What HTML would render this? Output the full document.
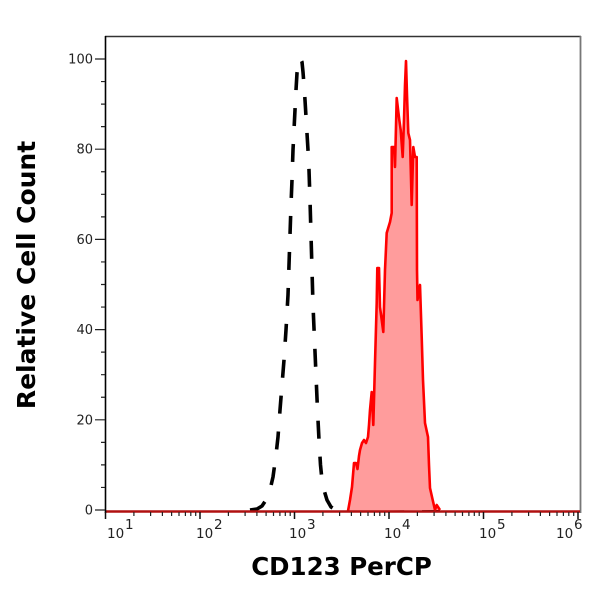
<!DOCTYPE html>
<html><head><meta charset="utf-8"><style>
html,body{margin:0;padding:0;background:#fff;}
svg{display:block;}
</style></head><body>
<svg width="600" height="595" viewBox="0 0 600 595" xmlns="http://www.w3.org/2000/svg">
<rect x="0" y="0" width="600" height="595" fill="#fff"/>
<!-- frame -->
<line x1="105" y1="36.5" x2="581" y2="36.5" stroke="#333" stroke-width="1.5"/>
<line x1="580.5" y1="36" x2="580.5" y2="513" stroke="#777" stroke-width="1.8"/>
<!-- black dashed control curve -->
<polyline fill="none" stroke="#000" stroke-width="3.6" stroke-dasharray="18 18" stroke-linejoin="round"
points="250,510 257,509 262,506 266,500 270,490 273,477 276,455 278,437 280,410 282,385 284,360 286,330 288,295 289,265 290,235 291,205 292,180 293,150 294,130 295,110 296,90 297,73 298.5,63 300,58 302,62 303,72 304,85 305,100 306.5,125 308,150 309,170 310,200 311,235 312,270 313,305 314.5,340 316,375 317.5,410 319,440 320.5,465 322,480 324,490 327,500 331,507 336,510 440,510"/>
<!-- red filled histogram -->
<polygon fill="#ff9c9c" stroke="none"
points="348,511 350,500 352,487 354,463 356,463 357.5,469 359,456 360,450 362,443 364,440 366,443 368,437 369,425 370,410 371.7,392 373.3,425 375,363 376.7,303 377.3,268 379,268 380,307 383.3,332 385,270 386.7,233 390,222 391.7,213 391.7,147 394,147 395,167 396.7,98 399.3,120 400.7,130 402.7,157 404,120 405,85 406,61 407,95 408.3,133 410,140 411.7,205 413.3,147 415,157 416.7,157 417,270 417.5,300 420,285 421.7,337 423,380 425,423 428,437 429,465 430,488 432.7,500 435,510 436.7,505 440,510"/>
<polyline fill="none" stroke="#ff0000" stroke-width="2.6" stroke-linejoin="round"
points="348,511 350,500 352,487 354,463 356,463 357.5,469 359,456 360,450 362,443 364,440 366,443 368,437 369,425 370,410 371.7,392 373.3,425 375,363 376.7,303 377.3,268 379,268 380,307 383.3,332 385,270 386.7,233 390,222 391.7,213 391.7,147 394,147 395,167 396.7,98 399.3,120 400.7,130 402.7,157 404,120 405,85 406,61 407,95 408.3,133 410,140 411.7,205 413.3,147 415,157 416.7,157 417,270 417.5,300 420,285 421.7,337 423,380 425,423 428,437 429,465 430,488 432.7,500 435,510 436.7,505 440,510"/>
<!-- baseline -->
<line x1="105" y1="511.5" x2="580" y2="511.5" stroke="#b01010" stroke-width="2.6"/>
<!-- axes -->
<line x1="105.5" y1="36" x2="105.5" y2="513" stroke="#000" stroke-width="1.6"/>
<!-- y ticks -->
<path stroke="#222" stroke-width="1.2" fill="none" d="
M95,510H105 M95,419.8H105 M95,329.6H105 M95,239.4H105 M95,149.2H105 M95,59H105
M101,487.45H105 M101,464.9H105 M101,442.35H105 M101,397.25H105 M101,374.7H105 M101,352.15H105
M101,307.05H105 M101,284.5H105 M101,261.95H105 M101,216.85H105 M101,194.3H105 M101,171.75H105
M101,126.65H105 M101,104.1H105 M101,81.55H105"/>
<!-- x ticks -->
<path stroke="#111" stroke-width="1.5" fill="none" d="
M105.5,512V519 M200,512V519 M294.5,512V519 M389,512V519 M483.5,512V519 M578,512V519"/>
<path stroke="#222" stroke-width="1.2" fill="none" d="
M133.9,512V516 M150.6,512V516 M162.4,512V516 M171.6,512V516 M179,512V516 M185.4,512V516 M190.8,512V516 M195.7,512V516
M228.4,512V516 M245.1,512V516 M256.9,512V516 M266.1,512V516 M273.5,512V516 M279.9,512V516 M285.3,512V516 M290.2,512V516
M322.9,512V516 M339.6,512V516 M351.4,512V516 M360.6,512V516 M368,512V516 M374.4,512V516 M379.8,512V516 M384.7,512V516
M417.4,512V516 M434.1,512V516 M445.9,512V516 M455.1,512V516 M462.5,512V516 M468.9,512V516 M474.3,512V516 M479.2,512V516
M511.9,512V516 M528.6,512V516 M540.4,512V516 M549.6,512V516 M557,512V516 M563.4,512V516 M568.8,512V516 M573.7,512V516"/>
<!-- y tick labels -->
<g font-family="DejaVu Sans, Verdana, sans-serif" font-size="13" fill="#222" text-anchor="end">
<text x="93" y="514.5">0</text>
<text x="93" y="424.3">20</text>
<text x="93" y="334.1">40</text>
<text x="93" y="243.9">60</text>
<text x="93" y="153.7">80</text>
<text x="93" y="63.5">100</text>
</g>
<!-- x tick labels -->
<g font-family="DejaVu Sans, Verdana, sans-serif" font-size="13.5" fill="#222">
<text x="107" y="538">10</text><text x="125" y="529">1</text>
<text x="196" y="538">10</text><text x="214" y="529">2</text>
<text x="289" y="538">10</text><text x="307" y="529">3</text>
<text x="384" y="538">10</text><text x="402" y="529">4</text>
<text x="479" y="538">10</text><text x="497" y="529">5</text>
<text x="556" y="538">10</text><text x="574" y="529">6</text>
</g>
<!-- axis titles -->
<text x="341.5" y="575" font-family="DejaVu Sans, Verdana, sans-serif" font-weight="bold" font-size="24.5" fill="#000" text-anchor="middle">CD123 PerCP</text>
<text transform="translate(35,275) rotate(-90)" x="0" y="0" font-family="DejaVu Sans, Verdana, sans-serif" font-weight="bold" font-size="25" fill="#000" text-anchor="middle">Relative Cell Count</text>
</svg>
</body></html>
